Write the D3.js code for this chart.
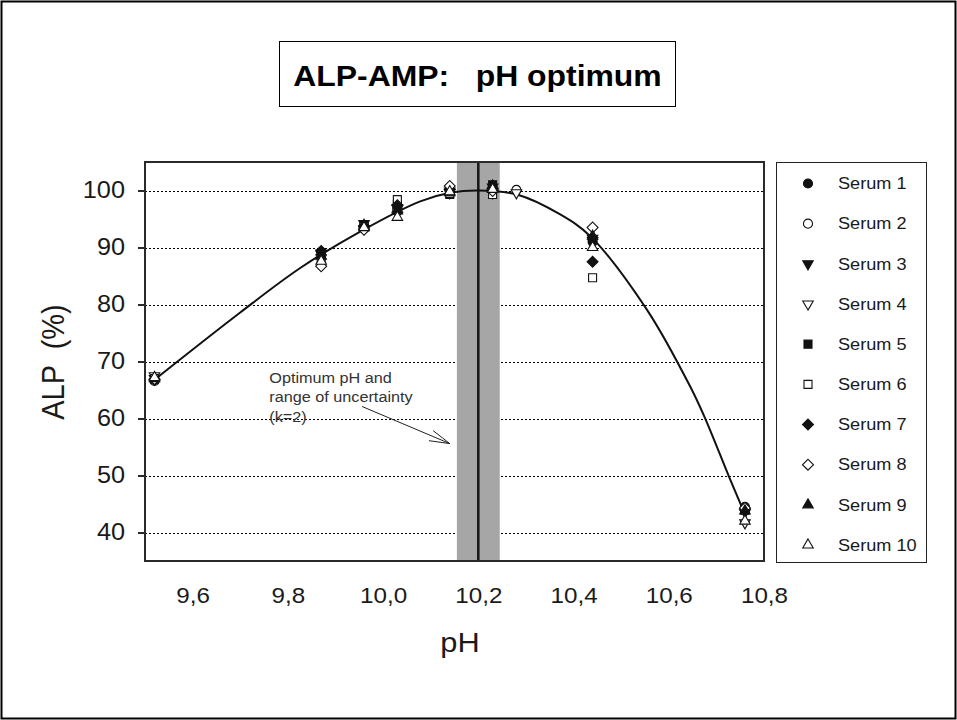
<!DOCTYPE html>
<html>
<head>
<meta charset="utf-8">
<script src="https://cdn.jsdelivr.net/npm/d3@7"></script>
<style>
  html, body { margin: 0; padding: 0; background: #fff; }
  svg text { font-family: "Liberation Sans", Arial, Helvetica, sans-serif; }
</style>
</head>
<body>
<script>
// pH levels at which the sera were measured
const phLevels = [9.52, 9.87, 9.96, 10.03, 10.14, 10.23, 10.28, 10.44, 10.76];

// Relative ALP activity (%) for each serum at the pH levels above (null = not measured)
const serum1  = [66.8, 89.2, 93.8, 96.6,  99.8, 100.3, null,  91.0, 44.5];
const serum2  = [66.6, 88.6, 93.4, 96.9, 100.0, 100.5, 100.1, 91.5, 44.2];
const serum3  = [67.0, 89.0, 94.2, 97.0,  99.6, 100.6, null,  91.2, 43.6];
const serum4  = [67.5, 88.2, 93.3, 96.8,  99.9,  99.6, 99.6,  91.6, 41.7];
const serum5  = [66.9, 88.8, 93.9, 97.6,  99.3, 101.0, null,  91.4, 44.0];
const serum6  = [67.0, 88.0, 93.6, 98.4,  99.5,  99.3, null,  84.7, 43.9];
const serum7  = [66.8, 89.4, 93.7, 97.4, 100.2, 100.4, null,  87.5, 44.0];
const serum8  = [66.9, 86.7, 93.1, 96.2, 100.8,  99.9, null,  93.5, 44.3];
const serum9  = [67.0, 88.5, 93.9, 96.4,  99.6, 100.8, null,  92.0, 43.8];
const serum10 = [67.2, 87.6, 93.5, 95.3,  99.8, 100.2, null,  90.0, 42.0];

const seriesNames = ["Serum 1", "Serum 2", "Serum 3", "Serum 4", "Serum 5",
                     "Serum 6", "Serum 7", "Serum 8", "Serum 9", "Serum 10"];
const seriesValues = [serum1, serum2, serum3, serum4, serum5,
                      serum6, serum7, serum8, serum9, serum10];

// Fitted pH-activity curve
const fitPH  = [9.52, 9.70, 9.826, 9.952, 10.078, 10.141, 10.20, 10.281, 10.372, 10.435, 10.554, 10.645, 10.677, 10.726, 10.76];
const fitALP = [66.8, 78.6, 86.4,  92.8,  98.1,   99.6,   100.0, 99.3,   95.8,   92.0,   79.1,   65.6,   59.9,   49.9,   43.2];

// Optimum pH and its expanded uncertainty range (k=2)
const optimumPH = 10.20;
const optimumRange = [10.155, 10.245];

// Axis ticks
const xTicks = [9.6, 9.8, 10.0, 10.2, 10.4, 10.6, 10.8];
const yTicks = [40, 50, 60, 70, 80, 90, 100];

// Annotation text and arrow anchor points (pH, ALP)
const noteLines = ["Optimum pH and", "range of uncertainty", "(k=2)"];
const noteAt = [9.761, 66.3];
const arrowFrom = [9.956, 62.1];
const arrowTo = [10.14, 55.6];

const W = 957, H = 720;
const plot = { left: 145, right: 764, top: 162, bottom: 561 };
const SX = 1.1; // horizontal widening of the lettering

const svg = d3.select("body").append("svg")
  .attr("width", W).attr("height", H);

// places a text element at (x, y) and widens it horizontally around its anchor
function placeText(sel, px, py, sx = SX) {
  return sel.attr("x", null).attr("y", null)
    .attr("transform", `translate(${px},${py}) scale(${sx},1)`);
}

svg.append("rect").attr("x", 0).attr("y", 0).attr("width", W).attr("height", H).attr("fill", "#fff");
// outer frame
svg.append("rect").attr("x", 1.5).attr("y", 1.5).attr("width", W - 3).attr("height", H - 3)
  .attr("fill", "none").attr("stroke", "#000").attr("stroke-width", 2);

// title box
svg.append("rect").attr("x", 279.5).attr("y", 41.5).attr("width", 396).attr("height", 65)
  .attr("fill", "#fff").attr("stroke", "#000").attr("stroke-width", 1);
svg.append("text")
  .attr("text-anchor", "middle")
  .attr("font-size", 29).attr("font-weight", "bold")
  .attr("xml:space", "preserve")
  .text("ALP-AMP:   pH optimum")
  .call(placeText, 477.5, 86);

const x = d3.scaleLinear().domain([9.5, 10.8]).range([plot.left, plot.right]);
const y = d3.scaleLinear().domain([35, 105]).range([plot.bottom, plot.top]);

// gridlines
svg.append("g").selectAll("line").data(yTicks).join("line")
  .attr("x1", plot.left).attr("x2", plot.right)
  .attr("y1", d => Math.round(y(d)) + 0.5).attr("y2", d => Math.round(y(d)) + 0.5)
  .attr("stroke", "#000").attr("stroke-width", 1).attr("stroke-dasharray", "2,2");

// uncertainty band and optimum line
svg.append("rect")
  .attr("x", x(optimumRange[0])).attr("width", x(optimumRange[1]) - x(optimumRange[0]))
  .attr("y", plot.top).attr("height", plot.bottom - plot.top)
  .attr("fill", "#a6a6a6");
svg.append("line")
  .attr("x1", x(optimumPH)).attr("x2", x(optimumPH))
  .attr("y1", plot.top).attr("y2", plot.bottom)
  .attr("stroke", "#1a1a1a").attr("stroke-width", 2.6);

// plot frame
svg.append("rect")
  .attr("x", plot.left).attr("y", plot.top)
  .attr("width", plot.right - plot.left).attr("height", plot.bottom - plot.top)
  .attr("fill", "none").attr("stroke", "#2a2a2a").attr("stroke-width", 2);

// y axis
const yAxis = svg.append("g").attr("transform", `translate(${plot.left},0)`)
  .call(d3.axisLeft(y).tickValues(yTicks).tickSize(7).tickPadding(13).tickFormat(d3.format("d")));
yAxis.select(".domain").remove();
yAxis.selectAll(".tick line").attr("stroke", "#2a2a2a").attr("stroke-width", 2);
yAxis.selectAll(".tick text").attr("font-size", 23).attr("fill", "#1a1a1a")
  .attr("font-family", null)
  .each(function () { placeText(d3.select(this), -20, 0, 1.1); });

// x axis
const xAxis = svg.append("g").attr("transform", `translate(0,${plot.bottom})`)
  .call(d3.axisBottom(x).tickValues(xTicks).tickSize(0).tickPadding(26)
    .tickFormat(d => d3.format(".1f")(d).replace(".", ",")));
xAxis.select(".domain").remove();
xAxis.selectAll(".tick text").attr("font-size", 22).attr("fill", "#1a1a1a")
  .attr("font-family", null)
  .each(function () { placeText(d3.select(this), 0, 26); });

// axis titles
svg.append("text")
  .attr("text-anchor", "middle")
  .attr("font-size", 28).attr("fill", "#1a1a1a").text("pH")
  .call(placeText, 460, 652);
svg.append("text")
  .attr("transform", "translate(64,362) rotate(-90) scale(1,1.1)")
  .attr("text-anchor", "middle").attr("font-size", 29).attr("fill", "#1a1a1a")
  .attr("xml:space", "preserve")
  .text("ALP  (%)");

// fitted curve
const curve = d3.line().x(d => x(d[0])).y(d => y(d[1])).curve(d3.curveCatmullRom.alpha(0.5));
svg.append("path")
  .attr("d", curve(fitPH.map((p, i) => [p, fitALP[i]])))
  .attr("fill", "none").attr("stroke", "#111").attr("stroke-width", 2);

// marker styles per serum
const markerDefs = [
  { type: d3.symbolCircle,   size: 64, rot: 0,   filled: true },
  { type: d3.symbolCircle,   size: 64, rot: 0,   filled: false },
  { type: d3.symbolTriangle, size: 48, rot: 180, filled: true },
  { type: d3.symbolTriangle, size: 48, rot: 180, filled: false },
  { type: d3.symbolSquare,   size: 64, rot: 0,   filled: true },
  { type: d3.symbolSquare,   size: 64, rot: 0,   filled: false },
  { type: d3.symbolSquare,   size: 60, rot: 45,  filled: true },
  { type: d3.symbolSquare,   size: 60, rot: 45,  filled: false },
  { type: d3.symbolTriangle, size: 48, rot: 0,   filled: true },
  { type: d3.symbolTriangle, size: 48, rot: 0,   filled: false }
];

function drawMarker(sel, m) {
  sel.attr("d", d3.symbol().type(m.type).size(m.size)())
    .attr("fill", m.filled ? "#111" : "#fff")
    .attr("stroke", "#111").attr("stroke-width", 1.1);
}

seriesValues.forEach((vals, si) => {
  const m = markerDefs[si];
  const pts = phLevels.map((p, i) => [p, vals[i]]).filter(d => d[1] != null);
  svg.append("g").selectAll("path").data(pts).join("path")
    .attr("transform", d => `translate(${x(d[0])},${y(d[1])}) rotate(${m.rot})`)
    .call(drawMarker, m);
});

// annotation
const note = svg.append("text")
  .attr("font-size", 14.5).attr("fill", "#333")
  .call(placeText, x(noteAt[0]), y(noteAt[1]), 1.12);
noteLines.forEach((t, i) => {
  note.append("tspan").attr("x", 0).attr("dy", i === 0 ? 0 : 19.5).text(t);
});
const ax0 = x(arrowFrom[0]), ay0 = y(arrowFrom[1]), ax1 = x(arrowTo[0]), ay1 = y(arrowTo[1]);
svg.append("line").attr("x1", ax0).attr("y1", ay0).attr("x2", ax1).attr("y2", ay1)
  .attr("stroke", "#222").attr("stroke-width", 1);
const ang = Math.atan2(ay0 - ay1, ax0 - ax1);
const headLen = 21, spread = 15 * Math.PI / 180;
svg.append("path")
  .attr("d", d3.line()([
    [ax1 + headLen * Math.cos(ang + spread), ay1 + headLen * Math.sin(ang + spread)],
    [ax1, ay1],
    [ax1 + headLen * Math.cos(ang - spread), ay1 + headLen * Math.sin(ang - spread)]
  ]))
  .attr("fill", "none").attr("stroke", "#222").attr("stroke-width", 1);

// legend
const legend = svg.append("g");
legend.append("rect").attr("x", 776.5).attr("y", 162.5).attr("width", 150).attr("height", 400)
  .attr("fill", "#fff").attr("stroke", "#222").attr("stroke-width", 1);
const legY = d3.scalePoint().domain(seriesNames).range([183.5, 545]);
seriesNames.forEach((name, i) => {
  const m = markerDefs[i];
  legend.append("path")
    .attr("transform", `translate(808,${legY(name)}) rotate(${m.rot})`)
    .call(drawMarker, m);
  legend.append("text")
    .attr("dy", "0.35em")
    .attr("font-size", 16.5).attr("fill", "#1a1a1a").text(name)
    .call(placeText, 838, legY(name));
});
</script>
</body>
</html>
